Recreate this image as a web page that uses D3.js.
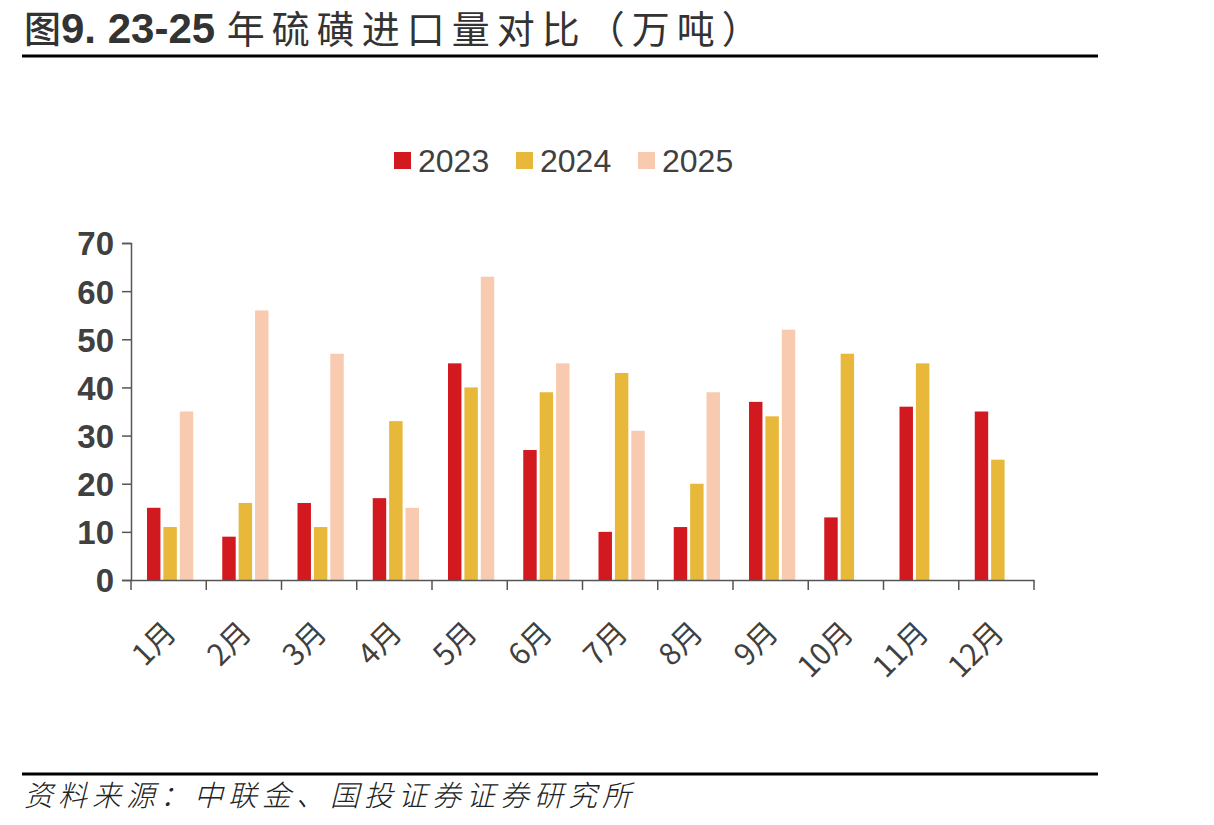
<!DOCTYPE html>
<html>
<head>
<meta charset="utf-8">
<script src="https://cdn.jsdelivr.net/npm/d3@7"></script>
<style>
  body { margin: 0; background: #fff; }
  svg { display: block; }
</style>
</head>
<body>
<svg id="chart" width="1214" height="825"></svg>
<script>
const months = ['1月', '2月', '3月', '4月', '5月', '6月', '7月', '8月', '9月', '10月', '11月', '12月'];
const seriesNames = ['2023', '2024', '2025'];
const v2023 = [15, 9, 16, 17, 45, 27, 10, 11, 37, 13, 36, 35];
const v2024 = [11, 16, 11, 33, 40, 39, 43, 20, 34, 47, 45, 25];
const v2025 = [35, 56, 47, 15, 63, 45, 31, 39, 52, null, null, null];
const yTicks = [0, 10, 20, 30, 40, 50, 60, 70];
const colors = ['#d31920', '#e8b83a', '#f8cbb0'];

const svg = d3.select('#chart');
const cjk = '"Noto Sans CJK SC", sans-serif';
const latin = '"Liberation Sans", Arial, sans-serif';

// title
const title = svg.append('text')
  .attr('x', 24).attr('y', 43)
  .attr('fill', '#333');
title.append('tspan').attr('font-family', cjk).attr('font-size', 37).attr('font-weight', 500).text('图');
title.append('tspan').attr('font-family', latin).attr('font-size', 42).attr('font-weight', 700).text('9. 23-25 ');
title.append('tspan').attr('font-family', cjk).attr('font-size', 38).attr('font-weight', 400)
  .attr('letter-spacing', 7).text('年硫磺进口量对比（万吨）');
svg.append('line').attr('x1', 22).attr('x2', 1098).attr('y1', 56).attr('y2', 56)
  .attr('stroke', '#000').attr('stroke-width', 3);

// footer
svg.append('line').attr('x1', 22).attr('x2', 1098).attr('y1', 774).attr('y2', 774)
  .attr('stroke', '#000').attr('stroke-width', 3);
svg.append('text')
  .attr('x', 24).attr('y', 806)
  .attr('font-family', cjk).attr('font-size', 29).attr('font-style', 'italic')
  .attr('font-weight', 300).attr('letter-spacing', 5)
  .attr('fill', '#222')
  .text('资料来源：中联金、国投证券证券研究所');

const x0 = 131, x1 = 1034, yTop = 243, yBot = 580;

const x = d3.scaleBand().domain(months).range([x0, x1]).paddingInner(0).paddingOuter(0);
const y = d3.scaleLinear().domain([0, 70]).range([yBot, yTop]);
const xs = d3.scaleBand().domain(seriesNames).range([16, x.bandwidth() - 13]).paddingInner(0.18);

const data = [v2023, v2024, v2025];

const g = svg.append('g');
seriesNames.forEach((s, si) => {
  g.selectAll('rect.s' + si)
    .data(months.map((m, i) => ({ m, v: data[si][i] })).filter(d => d.v != null))
    .join('rect')
    .attr('x', d => x(d.m) + xs(s))
    .attr('width', xs.bandwidth())
    .attr('y', d => y(d.v))
    .attr('height', d => yBot - y(d.v))
    .attr('fill', colors[si]);
});

// y axis
const yAxis = svg.append('g').attr('transform', `translate(${x0},0)`)
  .call(d3.axisLeft(y).tickValues(yTicks).tickSize(9).tickPadding(8));
yAxis.select('.domain').attr('stroke', '#555').attr('stroke-width', 1.5);
yAxis.selectAll('.tick line').attr('stroke', '#555').attr('stroke-width', 1.5);
yAxis.selectAll('.tick text')
  .attr('font-family', latin).attr('font-size', 33).attr('font-weight', 700)
  .attr('fill', '#404040').attr('dy', '0.36em');

// x axis
const xAxis = svg.append('g').attr('transform', `translate(0,${yBot})`)
  .call(d3.axisBottom(x).tickSize(0).tickFormat(''));
xAxis.select('.domain').attr('stroke', '#555').attr('stroke-width', 1.5);
const bounds = months.map(m => x(m)).concat([x1]);
xAxis.selectAll('line.sep').data(bounds).join('line')
  .attr('class', 'sep')
  .attr('x1', d => d).attr('x2', d => d).attr('y1', 0).attr('y2', 10)
  .attr('stroke', '#555').attr('stroke-width', 1.5);
xAxis.selectAll('text.lbl').data(months).join('text')
  .attr('class', 'lbl')
  .attr('transform', d => `translate(${x(d) + x.bandwidth() / 2 + 2},47) rotate(-45)`)
  .attr('text-anchor', 'end')
  .attr('dy', '0.35em')
  .attr('font-family', cjk).attr('font-size', 30)
  .attr('fill', '#404040')
  .text(d => d);

// legend
const legend = svg.append('g').attr('transform', 'translate(394,160)');
const legX = [0, 122, 244];
seriesNames.forEach((s, i) => {
  const lg = legend.append('g').attr('transform', `translate(${legX[i]},0)`);
  lg.append('rect').attr('x', 0).attr('y', -8).attr('width', 17).attr('height', 17).attr('fill', colors[i]);
  lg.append('text').attr('x', 24).attr('y', 0).attr('dy', '0.36em')
    .attr('font-family', latin).attr('font-size', 32)
    .attr('fill', '#404040').text(s);
});
</script>
</body>
</html>
